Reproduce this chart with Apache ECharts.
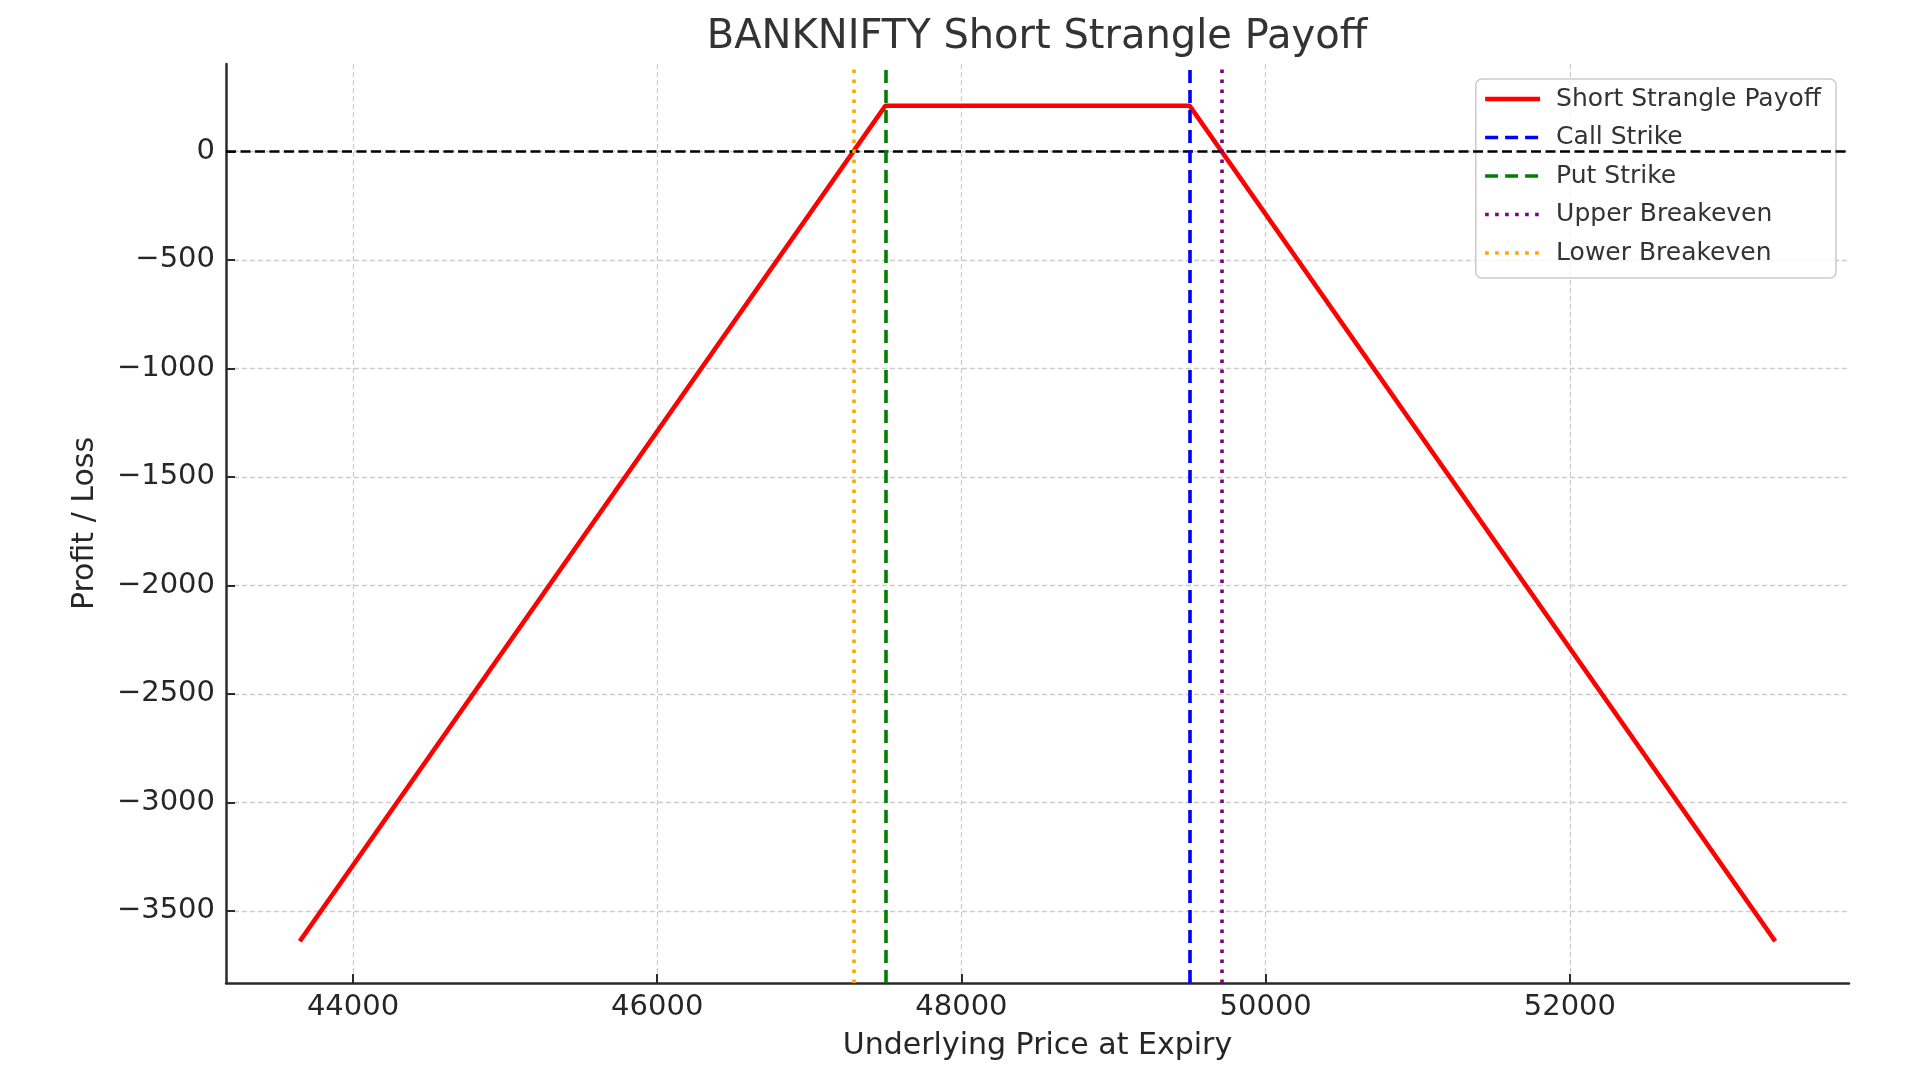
<!DOCTYPE html>
<html>
<head>
<meta charset="utf-8">
<title>BANKNIFTY Short Strangle Payoff</title>
<script src="https://cdn.jsdelivr.net/npm/echarts@6/dist/echarts.min.js"></script>
<style>
  html, body { margin: 0; padding: 0; background: #fff; }
  #main { width: 1920px; height: 1080px; }
</style>
</head>
<body>
<div id="main"></div>
<script>
// payoff kinks
var price = [43650, 47500, 49500, 53350];
var payoff = [-3640, 210, 210, -3640];

var callStrike = 49500;
var putStrike = 47500;
var upperBE = 49710;
var lowerBE = 47290;

var xTicks = [44000, 46000, 48000, 50000, 52000];
var yTicks = [-3500, -3000, -2500, -2000, -1500, -1000, -500, 0];

var font = 'DejaVu Sans';
var dom = document.getElementById('main');
var myChart = echarts.init(dom);

function minus(v) {
    return v < 0 ? '\u2212' + Math.abs(v) : String(v);
}

function vline(name, value, color, dash) {
    return {
        name: name,
        type: 'line',
        data: [],
        symbol: 'none',
        lineStyle: { color: color, width: 3.6, type: dash },
        itemStyle: { color: color },
        markLine: {
            silent: true,
            symbol: ['none', 'none'],
            label: { show: false },
            animation: false,
            lineStyle: { color: color, width: 3.6, type: dash },
            data: [{ xAxis: value }]
        },
        z: 4
    };
}

var pts = price.map(function (p, i) { return [p, payoff[i]]; });

var option = {
    backgroundColor: '#ffffff',
    animation: false,
    title: {
        text: 'BANKNIFTY Short Strangle Payoff',
        left: 1032,
        top: 13,
        textAlign: 'center',
        textStyle: { fontFamily: font, fontSize: 40, fontWeight: 'normal', color: '#333333' }
    },
    legend: {
        orient: 'vertical',
        right: 84,
        top: 79,
        selectedMode: false,
        itemWidth: 55,
        itemHeight: 26,
        itemGap: 12.5,
        padding: [7, 15, 12, 7],
        backgroundColor: 'rgba(255,255,255,0.8)',
        borderColor: '#cccccc',
        borderWidth: 1.5,
        borderRadius: 6,
        itemStyle: { opacity: 0 },
        lineStyle: { width: 'inherit' },
        textStyle: { fontFamily: font, fontSize: 25, color: '#333333', padding: [0, 0, 0, 11], lineHeight: 26 },
        data: ['Short Strangle Payoff', 'Call Strike', 'Put Strike', 'Upper Breakeven', 'Lower Breakeven']
    },
    grid: {
        left: 226,
        right: 71,
        top: 64,
        bottom: 97,
        containLabel: false
    },
    xAxis: {
        type: 'value',
        min: 43165,
        max: 53835,
        name: 'Underlying Price at Expiry',
        nameLocation: 'middle',
        nameGap: 48,
        nameTextStyle: { fontFamily: font, fontSize: 30, color: '#262626' },
        axisLine: { show: true, onZero: false, lineStyle: { color: '#2b2b2b', width: 2.5 } },
        axisTick: { show: true, inside: true, length: 9, customValues: xTicks, lineStyle: { color: '#2b2b2b', width: 2 } },
        axisLabel: { customValues: xTicks, margin: 10, fontFamily: font, fontSize: 29, color: '#262626', formatter: function (v) { return String(v); } },
        splitLine: { show: true, lineStyle: { color: '#cccccc', width: 1.3, type: [5, 3] } }
    },
    yAxis: {
        type: 'value',
        min: -3832.5,
        max: 402.5,
        name: 'Profit / Loss',
        nameLocation: 'middle',
        nameGap: 126,
        nameTextStyle: { fontFamily: font, fontSize: 30, color: '#262626' },
        axisLine: { show: true, lineStyle: { color: '#2b2b2b', width: 2.5 } },
        axisTick: { show: true, inside: true, length: 9, customValues: yTicks, lineStyle: { color: '#2b2b2b', width: 2 } },
        axisLabel: { customValues: yTicks, margin: 11, fontFamily: font, fontSize: 29, color: '#262626', formatter: minus },
        splitLine: { show: true, lineStyle: { color: '#cccccc', width: 1.3, type: [5, 3] } }
    },
    series: [
        {
            name: 'Short Strangle Payoff',
            type: 'line',
            data: pts,
            symbol: 'none',
            lineStyle: { color: '#ff0000', width: 4.7 },
            itemStyle: { color: '#ff0000' },
            z: 2
        },
        {
            name: 'zero',
            type: 'line',
            data: [],
            symbol: 'none',
            markLine: {
                silent: true,
                symbol: ['none', 'none'],
                label: { show: false },
                animation: false,
                lineStyle: { color: '#000000', width: 2.7, type: [10, 4.5] },
                data: [{ yAxis: 0 }]
            },
            z: 3
        },
        vline('Call Strike', callStrike, '#0000ff', [13, 7]),
        vline('Put Strike', putStrike, '#008000', [13, 7]),
        vline('Upper Breakeven', upperBE, '#800080', [3.6, 6.4]),
        vline('Lower Breakeven', lowerBE, '#ffa500', [3.6, 6.4])
    ]
};

if (option && typeof option === 'object') {
    myChart.setOption(option, true);
}
</script>
</body>
</html>
